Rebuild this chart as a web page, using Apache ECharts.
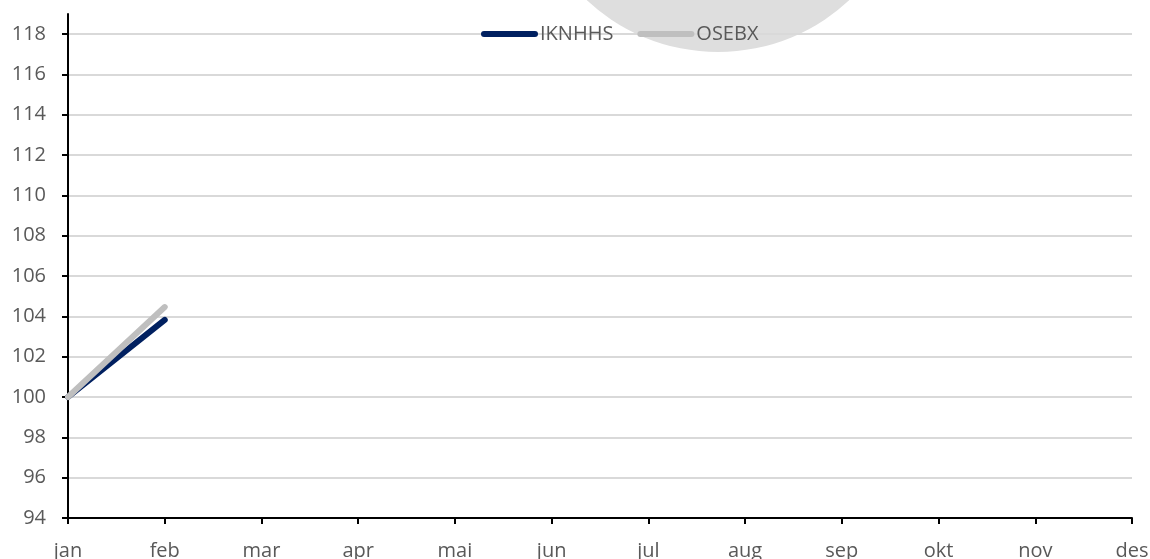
<!DOCTYPE html>
<html>
<head>
<meta charset="utf-8">
<style>
html,body{margin:0;padding:0;background:#fff;}
#chart{width:1150px;height:559px;}
</style>
<script src="https://cdn.jsdelivr.net/npm/echarts@6/dist/echarts.min.js"></script>
</head>
<body>
<div id="chart"></div>
<script>
const categories = ['jan','feb','mar','apr','mai','jun','jul','aug','sep','okt','nov','des'];
const seriesNames = ['IKNHHS','OSEBX'];
const iknhhs = [100, 103.82];
const osebx = [100, 104.46];
const yTicks = {min: 94, max: 118, interval: 2};
const yAxisTop = 119;

const chart = echarts.init(document.getElementById('chart'));
const font = '"Open Sans", sans-serif';
const capsule = 'path://M3,0 L54,0 A3,3 0 0 1 54,6 L3,6 A3,3 0 0 1 3,0 Z';
chart.setOption({
  animation: false,
  graphic: [{
    type: 'circle',
    z: -10,
    silent: true,
    shape: {cx: 718, cy: -140, r: 192},
    style: {fill: '#DEDEDE'}
  }],
  grid: [
    {left: 68, right: 18, top: 34, bottom: 41, containLabel: false, outerBoundsMode: 'none'},
    {left: 68, right: 18, top: 14, bottom: 41, containLabel: false, outerBoundsMode: 'none'}
  ],
  legend: {
    left: 476, top: 19,
    itemWidth: 57, itemHeight: 6, itemGap: 24,
    data: [
      {name: seriesNames[0], icon: capsule},
      {name: seriesNames[1], icon: capsule}
    ],
    textStyle: {color: '#595959', fontSize: 20, fontFamily: font, padding: [0,0,0,-3]}
  },
  xAxis: [{
    type: 'category',
    gridIndex: 0,
    data: categories,
    boundaryGap: false,
    axisLine: {lineStyle: {color: '#000', width: 2}},
    axisTick: {show: true, length: 6, alignWithLabel: true, lineStyle: {color: '#000', width: 2}},
    axisLabel: {color: '#595959', fontSize: 20, fontFamily: font, margin: 23, interval: 0},
    splitLine: {show: false}
  }, {
    type: 'category',
    gridIndex: 1,
    data: categories,
    boundaryGap: false,
    show: false
  }],
  yAxis: [{
    type: 'value',
    gridIndex: 0,
    min: yTicks.min, max: yTicks.max, interval: yTicks.interval,
    axisLine: {show: true, lineStyle: {color: '#000', width: 2}},
    axisTick: {show: true, length: 6, lineStyle: {color: '#000', width: 2}},
    axisLabel: {color: '#595959', fontSize: 20, fontFamily: font, margin: 22},
    splitLine: {show: true, lineStyle: {color: '#D9D9D9', width: 2}}
  }, {
    type: 'value',
    gridIndex: 1,
    min: yTicks.min, max: yAxisTop,
    axisLine: {show: true, lineStyle: {color: '#000', width: 2}},
    axisTick: {show: false},
    axisLabel: {show: false},
    splitLine: {show: false}
  }],
  series: [
    {name: seriesNames[0], type: 'line', data: iknhhs, showSymbol: false, symbol: 'none',
     xAxisIndex: 0, yAxisIndex: 0,
     itemStyle: {color: '#002060'},
     lineStyle: {color: '#002060', width: 6, cap: 'round'}},
    {name: seriesNames[1], type: 'line', data: osebx, showSymbol: false, symbol: 'none',
     xAxisIndex: 0, yAxisIndex: 0,
     itemStyle: {color: '#BFBFBF'},
     lineStyle: {color: '#BFBFBF', width: 6, cap: 'round'}}
  ]
});
</script>
</body>
</html>
